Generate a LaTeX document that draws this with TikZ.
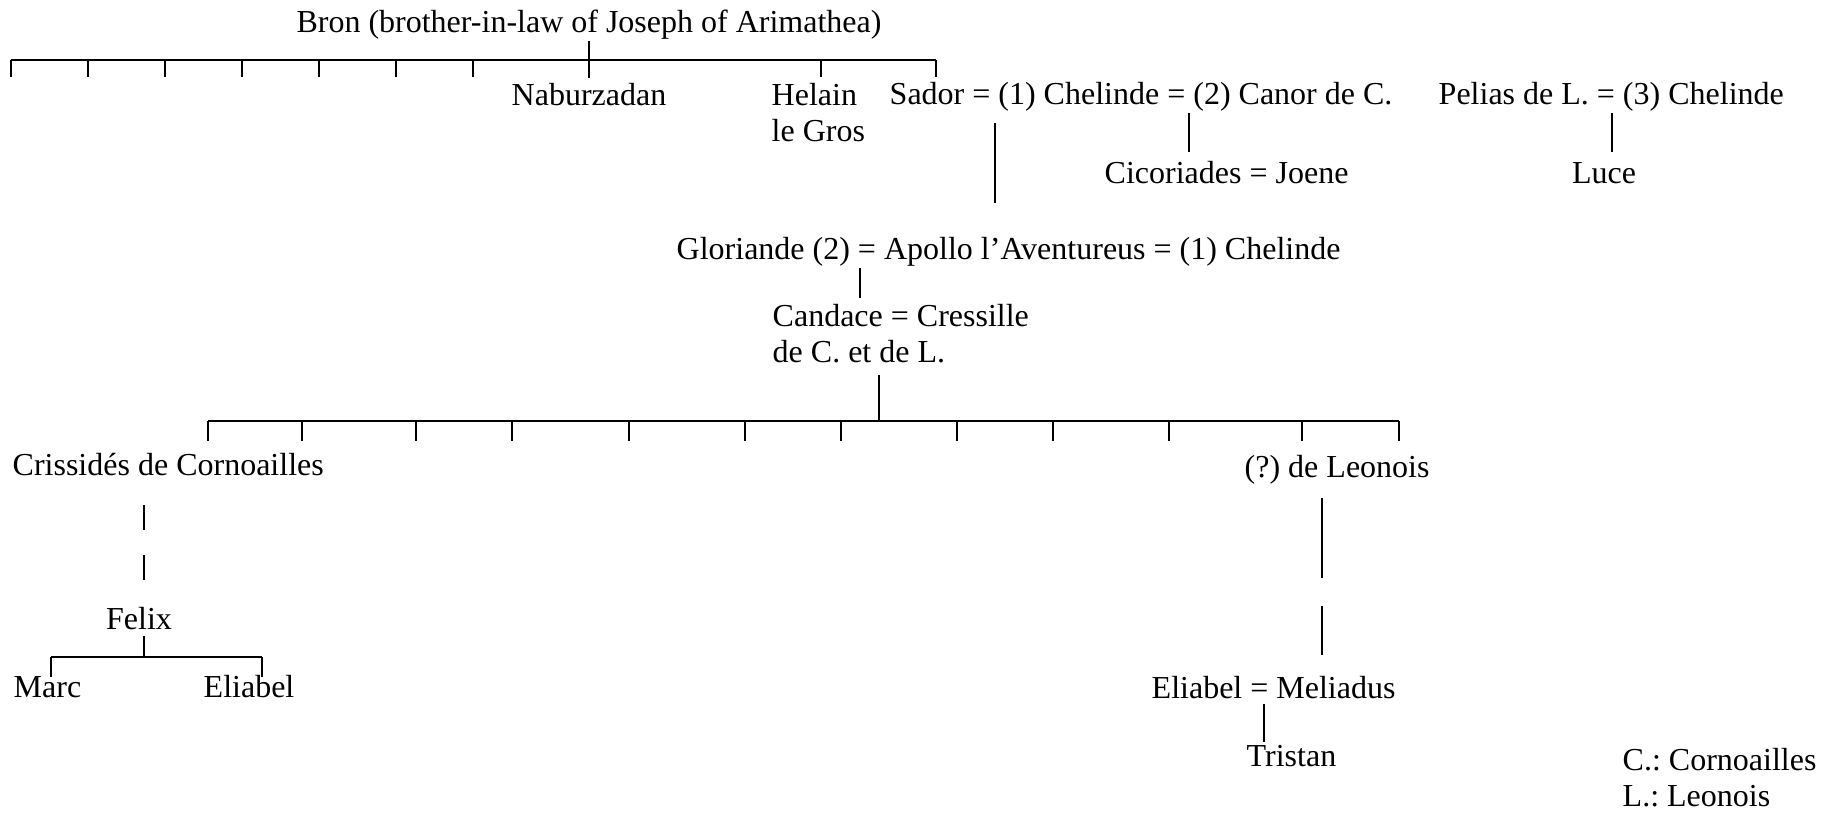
\documentclass[tikz,border=0pt]{standalone}
\usepackage{fontspec}
\setmainfont{Liberation Serif}
\usetikzlibrary{positioning}
\tikzset{
  nm/.style   = {inner sep=0, anchor=base west, align=left, font=\fontsize{9.1pt}{10.3pt}\selectfont\frenchspacing},
  link/.style = {line width=0.6pt},
  gap/.style  = {line width=0.6pt, dash pattern=on 7.1pt off 7.1pt}
}

\begin{document}
\begin{tikzpicture}[x=0.01cm, y=-0.01cm]
  \useasboundingbox (0,0) rectangle (1839,813);
  % Bron and his children
  \node[nm, anchor=base] (bron) at (589,33) {Bron (brother-in-law of Joseph of Arimathea)};
  \coordinate (b1w) at (11,60); \coordinate (b1e) at (936,60);
  \draw[link] (b1w) -- (b1e);
  \foreach \x in {11,88,165,242,319,396,473,821,936} \draw[link] (b1w -| \x,0) -- ++(0,17);
  \draw[link] (bron.south) -- ++(0,37);
  \node[nm, anchor=base] (nab) at (589,106) {Naburzadan};
  \node[nm] (hel) at (771,142) {Helain\\le Gros};
  \node[nm] (sad) at (889,105) {Sador = (1) Chelinde = (2) Canor de C.};
  \node[nm] (pel) at (1438,105) {Pelias de L. = (3) Chelinde};
  \coordinate (chel) at (995,123); \draw[link] (chel) -- ++(0,80);
  \coordinate (can) at (1189,113); \draw[link] (can) -- ++(0,39);
  \coordinate (pl) at (1612,113);  \draw[link] (pl) -- ++(0,39);
  \node[nm] (cic) at (1104,184) {Cicoriades = Joene};
  \node[nm, anchor=base] (luce) at (1604,184) {Luce};
  % Apollo and Candace
  \node[nm] (glo) at (676,260) {Gloriande (2) = Apollo l’Aventureus = (1) Chelinde};
  \coordinate (apo) at (860,268); \draw[link] (apo) -- ++(0,30);
  \node[nm] (cand) at (772,363) {Candace = Cressille\\de C. et de L.};
  \coordinate (cre) at (879,375); \coordinate (b2w) at (208,421); \coordinate (b2e) at (1399,421);
  \draw[link] (cre) -- (cre |- b2w);
  \draw[link] (b2w) -- (b2e);
  \foreach \x in {208,302,416,512,629,745,841,957,1053,1169,1302,1399} \draw[link] (b2w -| \x,0) -- ++(0,20);
  % Cornoailles
  \node[nm] (cris) at (12,476) {Crissidés de Cornoailles};
  \coordinate (cr) at (144,505); \draw[gap] (cr) -- ++(0,75);
  \node[nm, anchor=base] (felix) at (139,630) {Felix};
  \coordinate (fx) at (144,636); \coordinate (b3w) at (51,657); \coordinate (b3e) at (262,657);
  \draw[link] (fx) -- (fx |- b3w);
  \draw[link] (b3w) -- (b3e);
  \draw[link] (b3w) -- ++(0,20); \draw[link] (b3e) -- ++(0,20);
  \node[nm] (marc) at (13,698) {Marc};
  \node[nm] (eliF) at (203,698) {Eliabel};
  % Leonois
  \node[nm] (leo) at (1244,478) {(?) de Leonois};
  \coordinate (lo) at (1322,498); \draw[link, dash pattern=on 22.8pt off 8pt on 14.2pt off 30pt] (lo) -- ++(0,157);
  \node[nm] (meli) at (1151,699) {Eliabel = Meliadus};
  \coordinate (ml) at (1264,704); \draw[link] (ml) -- ++(0,38);
  \node[nm] (tris) at (1246,767) {Tristan};
  % key
  \node[nm] (key) at (1622,807) {C.: Cornoailles\\L.: Leonois};
\end{tikzpicture}
\end{document}
